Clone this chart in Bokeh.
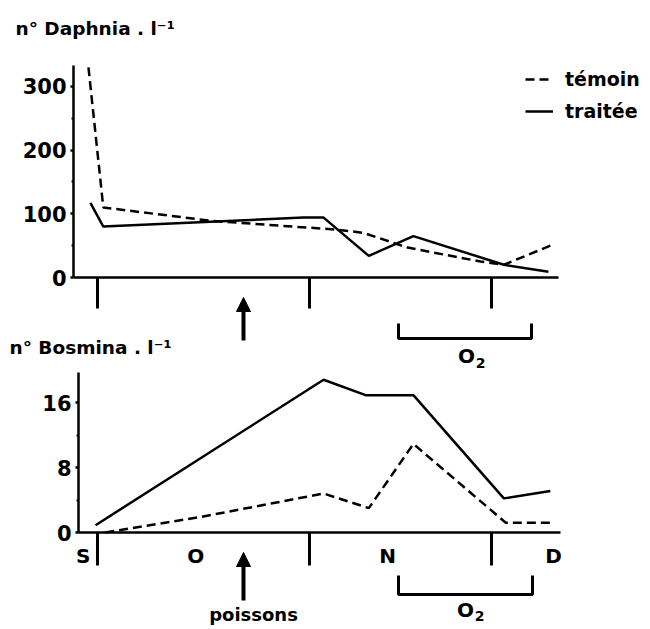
from bokeh.plotting import figure
from bokeh.models import Range1d, LinearAxis, FixedTicker, Arrow, NormalHead, Legend, LegendItem
from bokeh.core.properties import value
from bokeh.embed import file_html
from bokeh.resources import INLINE

# ---------------- data ----------------
# x: days counted from 1 October (positions as drawn in the figure)
month_bounds = [0.0, 32.8, 61.0]          # 1 Oct, 1 Nov, 1 Dec
month_labels = ["S", "O", "N", "D"]
month_label_days = [-2.2, 15.2, 44.9, 70.6]

daph_temoin_day = [-1.4, 0.9, 17.5, 37.2, 41.2, 48.0, 59.3, 62.9, 70.1]
daph_temoin = [330, 110, 89, 75, 70, 47, 25, 20, 50]
daph_traitee_day = [-1.1, 0.9, 31.9, 35.0, 42.0, 48.9, 62.9, 69.8]
daph_traitee = [117, 80, 94, 94, 34, 65, 20, 9]

bosm_temoin_day = [1.2, 15.9, 35.0, 42.0, 48.9, 63.2, 70.4]
bosm_temoin = [0.0, 1.9, 4.8, 3.0, 10.9, 1.2, 1.2]
bosm_traitee_day = [-0.3, 35.0, 41.5, 48.9, 62.9, 70.1]
bosm_traitee = [0.9, 18.8, 16.9, 16.9, 4.2, 5.1]

daph_ticks = [0, 100, 200, 300]
daph_minor = [50, 150, 250]
bosm_ticks = [0, 8, 16]
bosm_minor = [4, 12]

title_daph = "n° Daphnia . l⁻¹"
title_bosm = "n° Bosmina . l⁻¹"
legend_labels = ["témoin", "traitée"]
arrow_label = "poissons"

# ---------------- layout helpers (pixel positions in the picture) ----------------
W, H = 650, 629
OFF = 0
PX0, PPD = 97.0, 6.46


def dx(px):
    return (px - PX0) / PPD


def yd(py):
    return (277.0 - py) / 0.637


def yb(py):
    return (532.0 - py) / 8.125


FONT = value("DejaVu Sans")

p = figure(width=W, height=H,
           x_range=Range1d(dx(OFF), dx(OFF + W)),
           y_range=Range1d(yd(OFF + H), yd(OFF)),
           x_axis_type=None, y_axis_type=None,
           output_backend="svg", toolbar_location=None,
           min_border=0, outline_line_color=None,
           background_fill_color="white", border_fill_color="white")
p.extra_y_ranges = {"bosm": Range1d(yb(OFF + H), yb(OFF))}


def yaxis(rng, loc, top, ticks, minor):
    ax = LinearAxis(y_range_name=rng, fixed_location=loc, bounds=(0, top),
                    ticker=FixedTicker(ticks=ticks, minor_ticks=minor))
    ax.axis_line_width = 2.5
    ax.major_tick_line_width = 2.5
    ax.minor_tick_line_width = 2
    ax.major_tick_out = 3
    ax.major_tick_in = 0
    ax.minor_tick_out = 2
    ax.minor_tick_in = 0
    ax.major_label_standoff = 4
    ax.major_label_text_font = "DejaVu Sans"
    ax.major_label_text_font_style = "bold"
    ax.major_label_text_font_size = "21px"
    ax.major_label_text_color = "black"
    p.add_layout(ax, "left")


def xaxis(rng, x0, x1, tick_len):
    ax = LinearAxis(y_range_name=rng, fixed_location=0, bounds=(dx(x0), dx(x1)),
                    ticker=FixedTicker(ticks=month_bounds, minor_ticks=[]))
    ax.axis_line_width = 2.5
    ax.major_tick_line_width = 3
    ax.major_tick_out = tick_len
    ax.major_tick_in = 0
    ax.minor_tick_out = 0
    ax.minor_tick_in = 0
    ax.major_label_text_color = None
    p.add_layout(ax, "below")


yaxis("default", dx(73), 333, daph_ticks, daph_minor)
yaxis("bosm", dx(78), 19.7, bosm_ticks, bosm_minor)
xaxis("default", 73, 558, 31)
xaxis("bosm", 78, 560, 33)

# ---------------- series ----------------
r_dt = p.line(daph_temoin_day, daph_temoin, line_color="black", line_width=2.5, line_dash="9 5")
r_dtr = p.line(daph_traitee_day, daph_traitee, line_color="black", line_width=2.5)
p.line(bosm_temoin_day, bosm_temoin, line_color="black", line_width=2.5, line_dash="9 5",
       y_range_name="bosm")
p.line(bosm_traitee_day, bosm_traitee, line_color="black", line_width=2.5, y_range_name="bosm")

legend = Legend(items=[LegendItem(label=legend_labels[0], renderers=[r_dt]),
                       LegendItem(label=legend_labels[1], renderers=[r_dtr])],
                location=(525 - OFF, OFF + H - 122), orientation="vertical",
                glyph_width=28, glyph_height=20, label_height=20, label_standoff=12,
                spacing=10, padding=0, margin=0,
                border_line_color=None, background_fill_alpha=0,
                label_text_font="DejaVu Sans", label_text_font_style="bold",
                label_text_font_size="19px", label_text_color="black")
p.add_layout(legend, "center")

# ---------------- texts ----------------
p.text(x=[dx(15)], y=[yd(28)], text=[title_daph], text_font=FONT, text_font_style="bold",
       text_font_size="18.5px", text_baseline="middle", text_align="left", text_color="black")
p.text(x=[dx(9)], y=[yb(347)], text=[title_bosm], text_font=FONT, text_font_style="bold",
       text_font_size="18.5px", text_baseline="middle", text_align="left", text_color="black",
       y_range_name="bosm")
p.text(x=month_label_days, y=[yb(555)] * len(month_labels), text=month_labels, text_font=FONT,
       text_font_style="bold", text_font_size="20px", text_baseline="middle", text_align="center",
       text_color="black", y_range_name="bosm")
p.text(x=[dx(253)], y=[yb(614)], text=[arrow_label], text_font=FONT, text_font_style="bold",
       text_font_size="18px", text_baseline="middle", text_align="center", text_color="black",
       y_range_name="bosm")

# arrows (fish introduction)
for rng, y0, y1, conv in (("default", 340, 297, yd), ("bosm", 600, 552, yb)):
    p.add_layout(Arrow(end=NormalHead(size=14, fill_color="black", line_color="black", line_width=1),
                       x_start=dx(243), y_start=conv(y0), x_end=dx(243), y_end=conv(y1),
                       line_width=4, line_color="black", y_range_name=rng))

# O2 brackets
p.multi_line(xs=[[dx(398), dx(398), dx(531), dx(531)]], ys=[[yd(323), yd(338), yd(338), yd(323)]],
             line_color="black", line_width=3)
p.multi_line(xs=[[dx(398), dx(398), dx(532), dx(532)]], ys=[[yb(575), yb(594), yb(594), yb(575)]],
             line_color="black", line_width=3, y_range_name="bosm")
p.text(x=[dx(466)], y=[yd(355)], text=["O"], text_font=FONT, text_font_style="bold",
       text_font_size="20px", text_baseline="middle", text_align="center", text_color="black")
p.text(x=[dx(480)], y=[yd(362)], text=["2"], text_font=FONT, text_font_style="bold",
       text_font_size="14px", text_baseline="middle", text_align="center", text_color="black")
p.text(x=[dx(465)], y=[yb(609)], text=["O"], text_font=FONT, text_font_style="bold",
       text_font_size="20px", text_baseline="middle", text_align="center", text_color="black",
       y_range_name="bosm")
p.text(x=[dx(479)], y=[yb(615)], text=["2"], text_font=FONT, text_font_style="bold",
       text_font_size="14px", text_baseline="middle", text_align="center", text_color="black",
       y_range_name="bosm")

open("out.html", "w").write(file_html(p, INLINE))
